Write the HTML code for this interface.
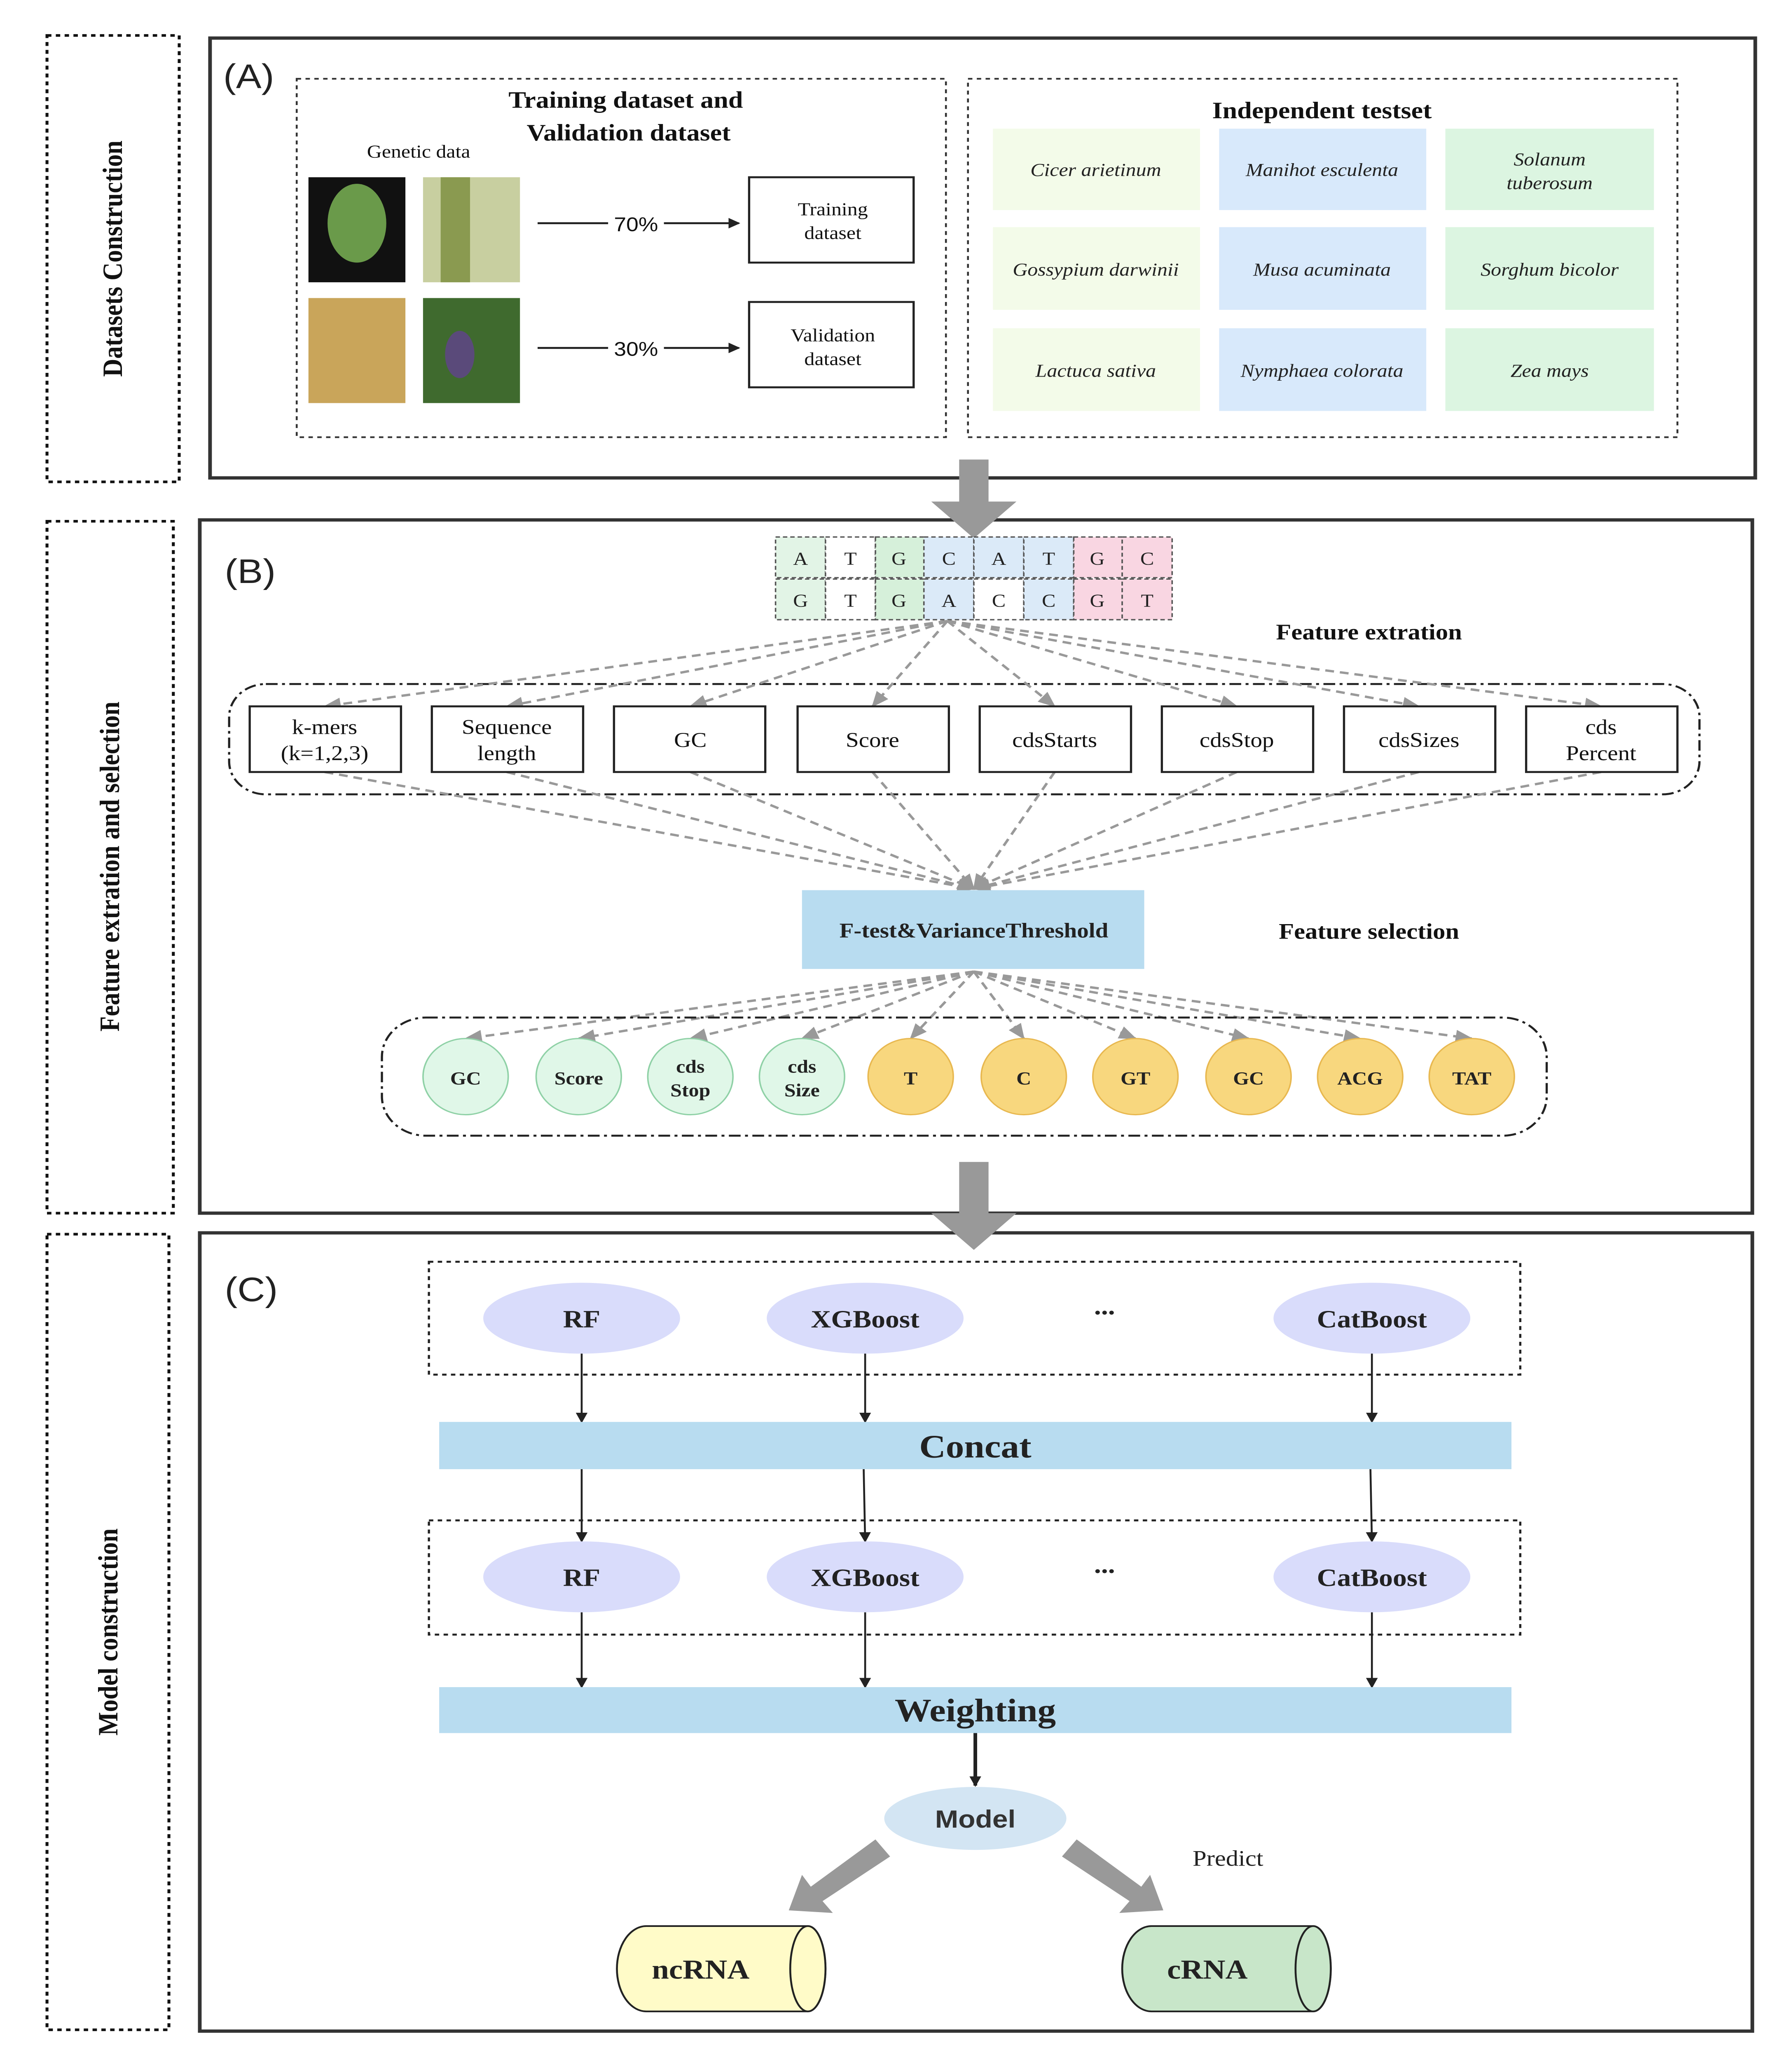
<!DOCTYPE html>
<html><head><meta charset="utf-8"><style>
html,body{margin:0;padding:0;background:#fff;overflow:hidden;width:100%;height:100%}
svg{display:block;width:100vw;height:100vh}
text{font-family:"Liberation Serif",serif}
</style></head><body>
<svg viewBox="0 0 1220 1569" preserveAspectRatio="none" xmlns="http://www.w3.org/2000/svg">
<defs>
<marker id="ah" markerWidth="8" markerHeight="8" refX="7" refY="4" orient="auto" markerUnits="userSpaceOnUse"><path d="M0,0 L8,4 L0,8 z" fill="#222"/></marker>
<marker id="ag" markerWidth="12" markerHeight="10" refX="11" refY="5" orient="auto" markerUnits="userSpaceOnUse"><path d="M0,0 L12,5 L0,10 z" fill="#999"/></marker>
</defs>
<rect width="1220" height="1569" fill="#fff"/>
<g fill="none" stroke="#111" stroke-width="2" stroke-dasharray="3,3">
<rect x="32" y="27" width="90" height="340"/>
<rect x="32" y="397" width="86" height="527"/>
<rect x="32" y="940" width="83" height="606"/>
</g>
<g font-weight="bold" font-size="19" fill="#111" text-anchor="middle">
<text transform="translate(83,197) rotate(-90)">Datasets Construction</text>
<text transform="translate(81,660) rotate(-90)">Feature extration and selection</text>
<text transform="translate(80,1243) rotate(-90)">Model construction</text>
</g>
<g fill="none" stroke="#333" stroke-width="2.5">
<rect x="143" y="29" width="1052" height="335"/>
<rect x="136" y="396" width="1057" height="528"/>
<rect x="136" y="939" width="1057" height="608"/>
</g>
<g font-size="26" fill="#222">
<text x="152" y="67" style="font-family:'Liberation Sans',sans-serif">(A)</text>
<text x="153" y="444" style="font-family:'Liberation Sans',sans-serif">(B)</text>
<text x="153" y="991" style="font-family:'Liberation Sans',sans-serif">(C)</text>
</g>
<g fill="none" stroke="#333" stroke-width="1.3" stroke-dasharray="3,3">
<rect x="202" y="60" width="442" height="273"/>
<rect x="659" y="60" width="483" height="273"/>
</g>
<g font-weight="bold" font-size="18" fill="#111" text-anchor="middle">
<text x="426" y="82">Training dataset and</text>
<text x="428" y="107">Validation dataset</text>
<text x="900" y="90">Independent testset</text>
</g>
<text x="285" y="120" font-size="14" text-anchor="middle" fill="#111">Genetic data</text>
<rect x="210" y="135" width="66" height="80" fill="#111"/>
<ellipse cx="243" cy="170" rx="20" ry="30" fill="#6a9a4a"/>
<rect x="288" y="135" width="66" height="80" fill="#c8cfa0"/>
<rect x="300" y="135" width="20" height="80" fill="#8a9a50"/>
<rect x="210" y="227" width="66" height="80" fill="#c9a55a"/>
<rect x="288" y="227" width="66" height="80" fill="#3f6a2e"/>
<ellipse cx="313" cy="270" rx="10" ry="18" fill="#5a4a7a"/>
<g stroke="#222" stroke-width="1.5" marker-end="url(#ah)">
<line x1="366" y1="170" x2="503" y2="170"/>
<line x1="366" y1="265" x2="503" y2="265"/>
</g>
<rect x="414" y="160" width="38" height="20" fill="#fff"/>
<rect x="414" y="255" width="38" height="20" fill="#fff"/>
<g font-size="15" text-anchor="middle" fill="#111">
<text x="433" y="176" style="font-family:'Liberation Sans',sans-serif">70%</text>
<text x="433" y="271" style="font-family:'Liberation Sans',sans-serif">30%</text>
</g>
<g fill="#fff" stroke="#222" stroke-width="1.5">
<rect x="510" y="135" width="112" height="65"/>
<rect x="510" y="230" width="112" height="65"/>
</g>
<g font-size="14" text-anchor="middle" fill="#111">
<text x="567" y="164">Training</text><text x="567" y="182">dataset</text>
<text x="567" y="260">Validation</text><text x="567" y="278">dataset</text>
</g>
<g>
<rect x="676" y="98" width="141" height="62" fill="#f3fbe9"/>
<rect x="830" y="98" width="141" height="62" fill="#d8e9fb"/>
<rect x="984" y="98" width="142" height="62" fill="#dcf5e1"/>
<rect x="676" y="173" width="141" height="63" fill="#f3fbe9"/>
<rect x="830" y="173" width="141" height="63" fill="#d8e9fb"/>
<rect x="984" y="173" width="142" height="63" fill="#dcf5e1"/>
<rect x="676" y="250" width="141" height="63" fill="#f3fbe9"/>
<rect x="830" y="250" width="141" height="63" fill="#d8e9fb"/>
<rect x="984" y="250" width="142" height="63" fill="#dcf5e1"/>
</g>
<g font-size="14" font-style="italic" text-anchor="middle" fill="#222">
<text x="746" y="134">Cicer arietinum</text>
<text x="900" y="134">Manihot esculenta</text>
<text x="1055" y="126">Solanum</text><text x="1055" y="144">tuberosum</text>
<text x="746" y="210">Gossypium darwinii</text>
<text x="900" y="210">Musa acuminata</text>
<text x="1055" y="210">Sorghum bicolor</text>
<text x="746" y="287">Lactuca sativa</text>
<text x="900" y="287">Nymphaea colorata</text>
<text x="1055" y="287">Zea mays</text>
</g>
<path d="M653,350 H673 V382 H692 L663,410 L634,382 H653 Z" fill="#999"/>
<path d="M653,885 H673 V924 H692 L663,952 L634,924 H653 Z" fill="#999"/>
<g stroke="#555" stroke-width="1" stroke-dasharray="3,2">
<rect x="528" y="409" width="34" height="31" fill="#e2f4e6"/>
<rect x="562" y="409" width="34" height="31" fill="#fff"/>
<rect x="596" y="409" width="33" height="31" fill="#d6f0da"/>
<rect x="629" y="409" width="34" height="31" fill="#dbeaf8"/>
<rect x="663" y="409" width="34" height="31" fill="#dbeaf8"/>
<rect x="697" y="409" width="34" height="31" fill="#dbeaf8"/>
<rect x="731" y="409" width="33" height="31" fill="#f9d6e2"/>
<rect x="764" y="409" width="34" height="31" fill="#f9d6e2"/>
<rect x="528" y="441" width="34" height="31" fill="#e2f4e6"/>
<rect x="562" y="441" width="34" height="31" fill="#fff"/>
<rect x="596" y="441" width="33" height="31" fill="#d6f0da"/>
<rect x="629" y="441" width="34" height="31" fill="#dbeaf8"/>
<rect x="663" y="441" width="34" height="31" fill="#fff"/>
<rect x="697" y="441" width="34" height="31" fill="#dbeaf8"/>
<rect x="731" y="441" width="33" height="31" fill="#f9d6e2"/>
<rect x="764" y="441" width="34" height="31" fill="#f9d6e2"/>
</g>
<g font-size="14" text-anchor="middle" fill="#222">
<text x="545" y="430">A</text><text x="579" y="430">T</text><text x="612" y="430">G</text><text x="646" y="430">C</text><text x="680" y="430">A</text><text x="714" y="430">T</text><text x="747" y="430">G</text><text x="781" y="430">C</text>
<text x="545" y="462">G</text><text x="579" y="462">T</text><text x="612" y="462">G</text><text x="646" y="462">A</text><text x="680" y="462">C</text><text x="714" y="462">C</text><text x="747" y="462">G</text><text x="781" y="462">T</text>
</g>
<g font-weight="bold" font-size="17" text-anchor="middle" fill="#111">
<text x="932" y="487">Feature extration</text>
<text x="932" y="715">Feature selection</text>
</g>
<rect x="156" y="521" width="1001" height="84" rx="25" fill="none" stroke="#222" stroke-width="1.5" stroke-dasharray="8,3,2,3"/>
<g stroke="#999" stroke-width="1.8" stroke-dasharray="6,4" fill="none" marker-end="url(#ag)">
<line x1="645" y1="473" x2="221" y2="538"/>
<line x1="645" y1="473" x2="345" y2="538"/>
<line x1="645" y1="473" x2="470" y2="538"/>
<line x1="645" y1="473" x2="594" y2="538"/>
<line x1="645" y1="473" x2="718" y2="538"/>
<line x1="645" y1="473" x2="842" y2="538"/>
<line x1="645" y1="473" x2="966" y2="538"/>
<line x1="645" y1="473" x2="1090" y2="538"/>
<line x1="221" y1="588" x2="663" y2="677"/>
<line x1="345" y1="588" x2="663" y2="677"/>
<line x1="470" y1="588" x2="663" y2="677"/>
<line x1="594" y1="588" x2="663" y2="677"/>
<line x1="718" y1="588" x2="663" y2="677"/>
<line x1="842" y1="588" x2="663" y2="677"/>
<line x1="966" y1="588" x2="663" y2="677"/>
<line x1="1090" y1="588" x2="663" y2="677"/>
<line x1="663" y1="740" x2="317" y2="791"/>
<line x1="663" y1="740" x2="394" y2="791"/>
<line x1="663" y1="740" x2="470" y2="791"/>
<line x1="663" y1="740" x2="546" y2="791"/>
<line x1="663" y1="740" x2="620" y2="791"/>
<line x1="663" y1="740" x2="697" y2="791"/>
<line x1="663" y1="740" x2="773" y2="791"/>
<line x1="663" y1="740" x2="850" y2="791"/>
<line x1="663" y1="740" x2="926" y2="791"/>
<line x1="663" y1="740" x2="1002" y2="791"/>
</g>
<g fill="#fff" stroke="#222" stroke-width="1.5">
<rect x="170" y="538" width="103" height="50"/>
<rect x="294" y="538" width="103" height="50"/>
<rect x="418" y="538" width="103" height="50"/>
<rect x="543" y="538" width="103" height="50"/>
<rect x="667" y="538" width="103" height="50"/>
<rect x="791" y="538" width="103" height="50"/>
<rect x="915" y="538" width="103" height="50"/>
<rect x="1039" y="538" width="103" height="50"/>
</g>
<g font-size="16" text-anchor="middle" fill="#111">
<text x="221" y="559">k-mers</text><text x="221" y="579">(k=1,2,3)</text>
<text x="345" y="559">Sequence</text><text x="345" y="579">length</text>
<text x="470" y="569">GC</text>
<text x="594" y="569">Score</text>
<text x="718" y="569">cdsStarts</text>
<text x="842" y="569">cdsStop</text>
<text x="966" y="569">cdsSizes</text>
<text x="1090" y="559">cds</text><text x="1090" y="579">Percent</text>
</g>
<rect x="546" y="678" width="233" height="60" fill="#b8dcf0"/>
<text x="663" y="714" font-size="16" font-weight="bold" text-anchor="middle" fill="#222">F-test&amp;VarianceThreshold</text>
<rect x="260" y="775" width="793" height="90" rx="30" fill="none" stroke="#222" stroke-width="1.5" stroke-dasharray="8,3,2,3"/>
<g stroke-width="1">
<circle cx="317" cy="820" r="29" fill="#e0f7e8" stroke="#8fd1a6"/>
<circle cx="394" cy="820" r="29" fill="#e0f7e8" stroke="#8fd1a6"/>
<circle cx="470" cy="820" r="29" fill="#e0f7e8" stroke="#8fd1a6"/>
<circle cx="546" cy="820" r="29" fill="#e0f7e8" stroke="#8fd1a6"/>
<circle cx="620" cy="820" r="29" fill="#f8d77e" stroke="#e8b850"/>
<circle cx="697" cy="820" r="29" fill="#f8d77e" stroke="#e8b850"/>
<circle cx="773" cy="820" r="29" fill="#f8d77e" stroke="#e8b850"/>
<circle cx="850" cy="820" r="29" fill="#f8d77e" stroke="#e8b850"/>
<circle cx="926" cy="820" r="29" fill="#f8d77e" stroke="#e8b850"/>
<circle cx="1002" cy="820" r="29" fill="#f8d77e" stroke="#e8b850"/>
</g>
<g font-size="14" font-weight="bold" text-anchor="middle" fill="#222">
<text x="317" y="826">GC</text><text x="394" y="826">Score</text>
<text x="470" y="817">cds</text><text x="470" y="835">Stop</text>
<text x="546" y="817">cds</text><text x="546" y="835">Size</text>
<text x="620" y="826">T</text><text x="697" y="826">C</text><text x="773" y="826">GT</text><text x="850" y="826">GC</text><text x="926" y="826">ACG</text><text x="1002" y="826">TAT</text>
</g>
<g fill="none" stroke="#222" stroke-width="1.5" stroke-dasharray="3,3">
<rect x="292" y="961" width="743" height="86"/>
<rect x="292" y="1158" width="743" height="87"/>
</g>
<g stroke="#222" stroke-width="1.3" marker-end="url(#ah)">
<line x1="396" y1="1031" x2="396" y2="1083"/>
<line x1="589" y1="1031" x2="589" y2="1083"/>
<line x1="934" y1="1031" x2="934" y2="1083"/>
<line x1="396" y1="1119" x2="396" y2="1174"/>
<line x1="588" y1="1119" x2="589" y2="1174"/>
<line x1="933" y1="1119" x2="934" y2="1174"/>
<line x1="396" y1="1228" x2="396" y2="1285"/>
<line x1="589" y1="1228" x2="589" y2="1285"/>
<line x1="934" y1="1228" x2="934" y2="1285"/>
</g>
<line x1="664" y1="1320" x2="664" y2="1360" stroke="#222" stroke-width="2.5" marker-end="url(#ah)"/>
<g fill="#d9dcfb">
<ellipse cx="396" cy="1004" rx="67" ry="27"/><ellipse cx="589" cy="1004" rx="67" ry="27"/><ellipse cx="934" cy="1004" rx="67" ry="27"/>
<ellipse cx="396" cy="1201" rx="67" ry="27"/><ellipse cx="589" cy="1201" rx="67" ry="27"/><ellipse cx="934" cy="1201" rx="67" ry="27"/>
</g>
<g font-size="19" font-weight="bold" text-anchor="middle" fill="#222">
<text x="396" y="1011">RF</text><text x="589" y="1011">XGBoost</text><text x="934" y="1011">CatBoost</text>
<text x="752" y="1001">...</text>
<text x="396" y="1208">RF</text><text x="589" y="1208">XGBoost</text><text x="934" y="1208">CatBoost</text>
<text x="752" y="1198">...</text>
</g>
<rect x="299" y="1083" width="730" height="36" fill="#b8dcf0"/>
<rect x="299" y="1285" width="730" height="35" fill="#b8dcf0"/>
<g font-size="25" font-weight="bold" text-anchor="middle" fill="#222">
<text x="664" y="1110">Concat</text>
<text x="664" y="1311">Weighting</text>
</g>
<ellipse cx="664" cy="1385" rx="62" ry="24" fill="#d3e5f3"/>
<text x="664" y="1392" font-size="19" font-weight="bold" text-anchor="middle" fill="#333" style="font-family:'Liberation Sans',sans-serif">Model</text>
<path d="M596,1401 L606,1414 L560,1448 L567,1457 L537,1455 L546,1428 L552,1437 Z" fill="#999"/>
<path d="M733,1401 L723,1414 L769,1448 L762,1457 L792,1455 L783,1428 L777,1437 Z" fill="#999"/>
<text x="836" y="1421" font-size="17" text-anchor="middle" fill="#222">Predict</text>
<path d="M440,1467 H550 A12,32.5 0 0 1 550,1532 H440 A20,32.5 0 0 1 440,1467 Z" fill="#fffbc8" stroke="#222" stroke-width="1.3"/>
<ellipse cx="550" cy="1499.5" rx="12" ry="32.5" fill="#fffbc8" stroke="#222" stroke-width="1.3"/>
<path d="M784,1467 H894 A12,32.5 0 0 1 894,1532 H784 A20,32.5 0 0 1 784,1467 Z" fill="#c8e6c9" stroke="#222" stroke-width="1.3"/>
<ellipse cx="894" cy="1499.5" rx="12" ry="32.5" fill="#c8e6c9" stroke="#222" stroke-width="1.3"/>
<g font-size="21" font-weight="bold" text-anchor="middle" fill="#222">
<text x="477" y="1507">ncRNA</text>
<text x="822" y="1507">cRNA</text>
</g>
</svg>
</body></html>
